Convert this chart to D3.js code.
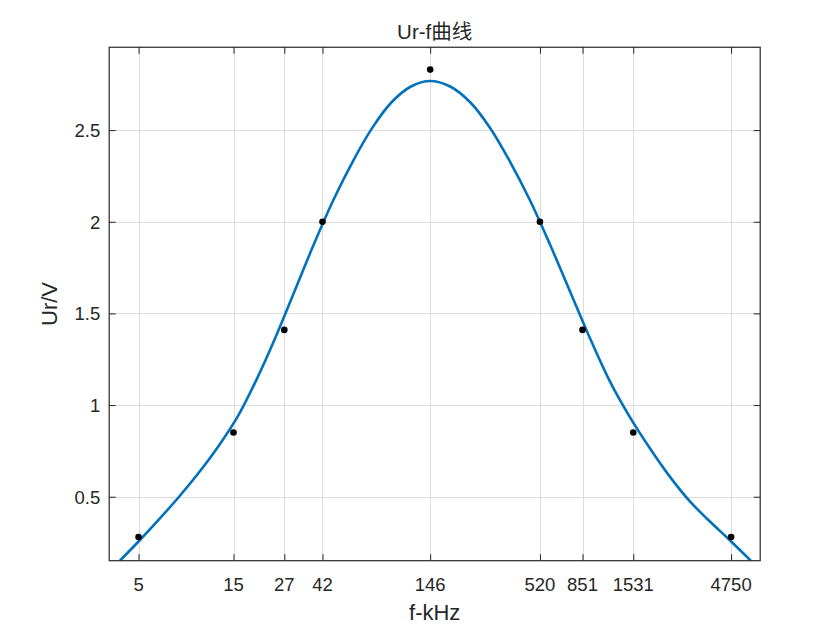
<!DOCTYPE html>
<html>
<head>
<meta charset="utf-8">
<script src="https://cdn.jsdelivr.net/npm/d3@7"></script>
<style>
  html, body { margin: 0; padding: 0; background: #fff; }
  svg { display: block; }
  text { font-family: Arial, "Liberation Sans", Helvetica, sans-serif; fill: #262626; }
</style>
</head>
<body>
<svg id="chart" width="840" height="630"></svg>
<script>
// Measured data points (f in kHz, Ur in V)
const freqs = [5, 15, 27, 42, 146, 520, 851, 1531, 4750];
const urValues = [0.28, 0.85, 1.41, 2.0, 2.83, 2.0, 1.41, 0.85, 0.28];

// Fitted curve, values
const curveF = [4.03, 5.08, 6.35, 7.95, 9.94, 12.4, 15.6, 19.5, 24.4, 30.5, 38.1, 47.7, 59.7, 74.7, 93.4, 116.9, 146,
                184, 232, 292, 367, 462, 582, 733, 923, 1161, 1462, 1841, 2317, 2917, 3673, 4624, 5965];
const curveU = [0.151, 0.264, 0.378, 0.497, 0.625, 0.765, 0.93, 1.135, 1.37, 1.625, 1.88, 2.12, 2.33, 2.512, 2.652, 2.738, 2.768,
                2.738, 2.652, 2.512, 2.33, 2.12, 1.88, 1.625, 1.37, 1.135, 0.94, 0.77, 0.615, 0.48, 0.37, 0.268, 0.151];

// Tick labels
const xTicks = [5, 15, 27, 42, 146, 520, 851, 1531, 4750];
const yTicks = [0.5, 1, 1.5, 2, 2.5];
const xDomain = [3.56, 6650];
const yDomain = [0.151, 2.952];

const titleText = "Ur-f曲线";
const xLabel = "f-kHz";
const yLabel = "Ur/V";

(function () {
const pL = 109.2, pR = 760.2, pT = 47.25, pB = 560.7;

const svg = d3.select("#chart");
const x = d3.scaleLog().domain(xDomain).range([pL, pR]);
const y = d3.scaleLinear().domain(yDomain).range([pB, pT]);

svg.append("defs").append("clipPath").attr("id", "clip")
  .append("rect").attr("x", pL).attr("y", pT).attr("width", pR - pL).attr("height", pB - pT);

// grid
const grid = svg.append("g");
grid.selectAll("line.gx").data(xTicks).enter().append("line")
  .attr("x1", d => Math.round(x(d)) + 0.5).attr("x2", d => Math.round(x(d)) + 0.5)
  .attr("y1", pT).attr("y2", pB)
  .attr("stroke", "#dcdcdc").attr("stroke-width", 1);
grid.selectAll("line.gy").data(yTicks).enter().append("line")
  .attr("y1", d => Math.round(y(d)) + 0.5).attr("y2", d => Math.round(y(d)) + 0.5)
  .attr("x1", pL).attr("x2", pR)
  .attr("stroke", "#dcdcdc").attr("stroke-width", 1);

// axes using d3 axis generators (inward ticks)
const tickLen = 6.5;
const xAxisB = svg.append("g").attr("transform", `translate(0,${pB})`)
  .call(d3.axisTop(x).tickValues(xTicks).tickSize(tickLen).tickFormat(""));
const xAxisT = svg.append("g").attr("transform", `translate(0,${pT})`)
  .call(d3.axisBottom(x).tickValues(xTicks).tickSize(tickLen).tickFormat(""));
const yAxisL = svg.append("g").attr("transform", `translate(${pL},0)`)
  .call(d3.axisRight(y).tickValues(yTicks).tickSize(tickLen).tickFormat(""));
const yAxisR = svg.append("g").attr("transform", `translate(${pR},0)`)
  .call(d3.axisLeft(y).tickValues(yTicks).tickSize(tickLen).tickFormat(""));
[xAxisB, xAxisT, yAxisL, yAxisR].forEach(g => {
  g.select(".domain").remove();
  g.selectAll(".tick line").attr("stroke", "#262626").attr("stroke-width", 1);
});

// tick labels
svg.append("g").selectAll("text").data(xTicks).enter().append("text")
  .attr("x", d => x(d)).attr("y", pB + 30)
  .attr("text-anchor", "middle").attr("font-size", 18.5)
  .text(d => String(d));
svg.append("g").selectAll("text").data(yTicks).enter().append("text")
  .attr("x", pL - 9).attr("y", d => y(d) + 7)
  .attr("text-anchor", "end").attr("font-size", 18.5)
  .text(d => String(d));

// curve
const line = d3.line()
  .x(d => x(d[0])).y(d => y(d[1]))
  .curve(d3.curveCatmullRom.alpha(0.5));
svg.append("path")
  .datum(curveF.map((f, i) => [f, curveU[i]]))
  .attr("clip-path", "url(#clip)")
  .attr("d", line)
  .attr("fill", "none")
  .attr("stroke", "#0072BD")
  .attr("stroke-width", 2.6);

// points
svg.append("g").selectAll("circle").data(freqs.map((f, i) => [f, urValues[i]])).enter()
  .append("circle")
  .attr("cx", d => x(d[0])).attr("cy", d => y(d[1]))
  .attr("r", 3.3).attr("fill", "#000");

// box
svg.append("rect")
  .attr("x", pL).attr("y", pT).attr("width", pR - pL).attr("height", pB - pT)
  .attr("fill", "none").attr("stroke", "#262626").attr("stroke-width", 1.2);

// title and labels
svg.append("text").attr("x", (pL + pR) / 2).attr("y", 39)
  .attr("text-anchor", "middle").attr("font-size", 20.5).attr("fill", "#000")
  .style("font-family", "Arial, 'Liberation Sans', 'Noto Sans CJK SC', sans-serif")
  .text(titleText);
svg.append("text").attr("x", (pL + pR) / 2).attr("y", 620)
  .attr("text-anchor", "middle").attr("font-size", 22)
  .text(xLabel);
svg.append("text").attr("transform", `translate(57,${(pT + pB) / 2}) rotate(-90)`)
  .attr("text-anchor", "middle").attr("font-size", 22)
  .text(yLabel);
})();
</script>
</body>
</html>
